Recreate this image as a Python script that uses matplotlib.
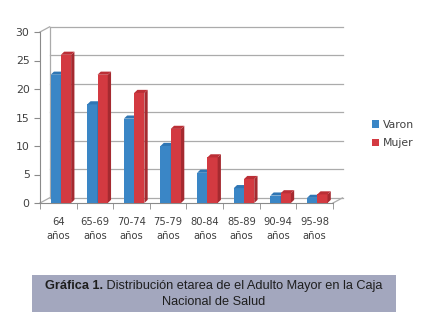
import matplotlib
matplotlib.use("Agg")
import matplotlib.pyplot as plt
from matplotlib.patches import Polygon, Rectangle, Patch
import numpy as np

categories = ["64\naños", "65-69\naños", "70-74\naños", "75-79\naños",
              "80-84\naños", "85-89\naños", "90-94\naños", "95-98\naños"]
varon = [22.5, 17.3, 14.8, 10.0, 5.3, 2.6, 1.3, 0.9]
mujer = [26.0, 22.5, 19.3, 13.0, 8.0, 4.2, 1.7, 1.5]
yticks = [0, 5, 10, 15, 20, 25, 30]
caption_bold = "Gráfica 1."
caption_rest = " Distribución etarea de el Adulto Mayor en la Caja"
caption_line2 = "Nacional de Salud"

plt.rcParams['font.family'] = ['DejaVu Sans']
fig = plt.figure(figsize=(4.32, 3.2), dpi=100)
ax = fig.add_axes([40/432, 117/320, 293/432, 171/320])
ax.set_xlim(-0.5, len(categories) - 0.5)
ax.set_ylim(0, 30)

DX, DY = 0.26, 0.9
bdx, bdy = 0.09, 0.55
grid_c = "#ababab"

x = np.arange(len(categories))
x0, x1 = -0.5, len(categories) - 0.5
for t in yticks:
    ax.plot([x0 + DX, x1 + DX], [t + DY, t + DY], color=grid_c, lw=0.9, clip_on=False, zorder=1)
ax.plot([x0, x0 + DX], [30, 30 + DY], color=grid_c, lw=0.9, clip_on=False, zorder=1)
ax.plot([x0 + DX, x0 + DX], [DY, 30 + DY], color=grid_c, lw=0.9, clip_on=False, zorder=1)
ax.plot([x0, x0 + DX], [0, DY], color=grid_c, lw=0.9, clip_on=False, zorder=1)
ax.plot([x1, x1 + DX], [0, DY], color=grid_c, lw=0.9, clip_on=False, zorder=1)

w = 0.28
def bar3d(xc, h, front, side, top):
    xl, xr = xc - w/2, xc + w/2
    ax.add_patch(Rectangle((xl, 0), w, h, facecolor=front, edgecolor='none', zorder=3))
    ax.add_patch(Polygon([(xr, 0), (xr + bdx, bdy), (xr + bdx, h + bdy), (xr, h)],
                         closed=True, facecolor=side, edgecolor='none', zorder=3, clip_on=False))
    ax.add_patch(Polygon([(xl, h), (xr, h), (xr + bdx, h + bdy), (xl + bdx, h + bdy)],
                         closed=True, facecolor=top, edgecolor='none', zorder=3, clip_on=False))

for i in range(len(categories)):
    bar3d(x[i] - 0.07, varon[i], "#3a86c6", "#2b6aa0", "#2f76b4")
    bar3d(x[i] + 0.21, mujer[i], "#d33a41", "#a52a30", "#bb2f36")

for s in ["top", "right"]:
    ax.spines[s].set_visible(False)
ax.spines["left"].set_color("#8a8a8a")
ax.spines["bottom"].set_color("#8a8a8a")
ax.set_yticks(yticks)
ax.set_xticks(np.arange(len(categories) + 1) - 0.5, minor=True)
ax.set_xticks(x)
ax.set_xticklabels(categories, fontsize=7.2, color="#404040", linespacing=1.55)
ax.tick_params(axis='x', which='major', length=0, pad=10)
ax.tick_params(axis='x', which='minor', length=4, color="#8a8a8a")
ax.tick_params(axis='y', labelsize=7.8, labelcolor="#404040", length=4, color="#8a8a8a", direction='out')

handles = [Patch(facecolor="#3a86c6", label="Varon"), Patch(facecolor="#d33a41", label="Mujer")]
fig.legend(handles=handles, loc="upper left", bbox_to_anchor=(362/432, 1 - 110/320),
           frameon=False, fontsize=7.8, handlelength=0.7, handleheight=0.7,
           handletextpad=0.3, labelspacing=0.8, labelcolor="#404040")

fig.patches.append(Rectangle((32/432, 1 - 312/320), 364/432, 37/320, transform=fig.transFigure,
                             facecolor="#a3a7be", edgecolor='none', zorder=0))
fs = 9.2
tb = fig.text(0, 1 - 286/320, caption_bold, ha='left', va='center', fontsize=fs,
              color="#1e1e1e", family="Liberation Sans", weight="bold")
tr = fig.text(0, 1 - 286/320, caption_rest, ha='left', va='center', fontsize=fs,
              color="#1e1e1e", family="Liberation Sans")
fig.canvas.draw()
r = fig.canvas.get_renderer()
wb = tb.get_window_extent(r).width
wr = tr.get_window_extent(r).width
W = fig.bbox.width
start = 214 - (wb + wr) / 2
tb.set_x(start / W)
tr.set_x((start + wb) / W)
fig.text(214/432, 1 - 302/320, caption_line2, ha='center', va='center',
         fontsize=fs, color="#1e1e1e", family="Liberation Sans")

fig.savefig("out.png", dpi=100, facecolor="white")
